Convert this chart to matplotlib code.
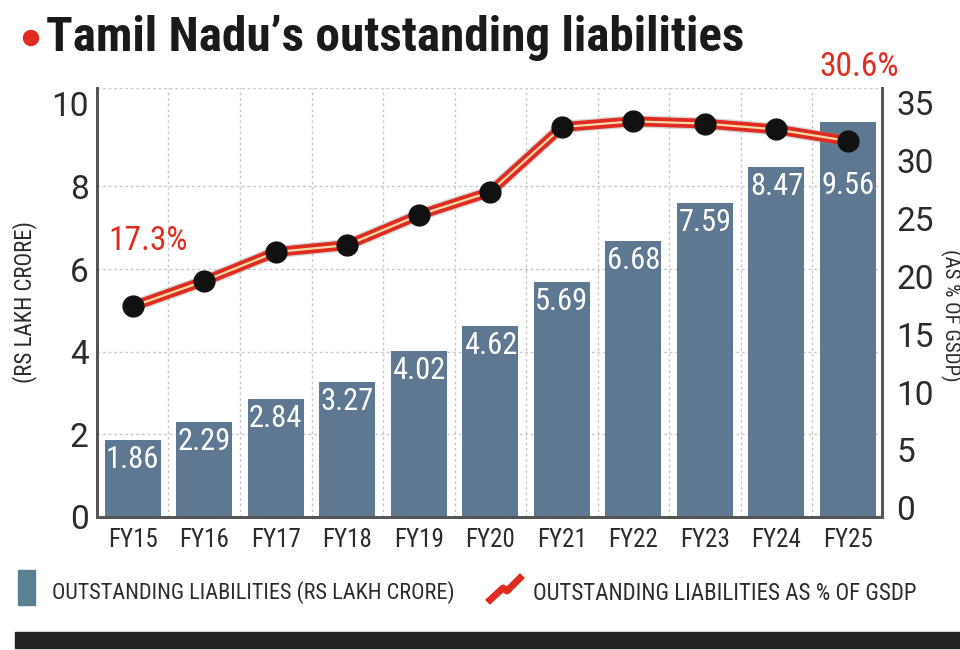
import matplotlib.pyplot as plt
from matplotlib import font_manager
from matplotlib.patches import Rectangle, Ellipse
from matplotlib.lines import Line2D
import matplotlib.patheffects as pe

years = ['FY15', 'FY16', 'FY17', 'FY18', 'FY19', 'FY20', 'FY21', 'FY22', 'FY23', 'FY24', 'FY25']
liabilities = [1.86, 2.29, 2.84, 3.27, 4.02, 4.62, 5.69, 6.68, 7.59, 8.47, 9.56]
pct_gsdp = [17.4, 19.6, 22.1, 22.7, 25.3, 27.3, 32.9, 33.4, 33.2, 32.7, 31.7]
pct_labels = {0: '17.3%', 10: '30.6%'}

names = {f.name for f in font_manager.fontManager.ttflist}
cond = next((n for n in ['Roboto Condensed', 'Archivo Narrow', 'Asap Condensed', 'Roboto']
             if n in names), 'DejaVu Sans')
plt.rcParams['font.family'] = [cond, 'DejaVu Sans']
regular = ['Roboto', 'DejaVu Sans']

bar_color = '#5e7891'
red = '#e02b20'
dark = '#2b2b2b'

fig = plt.figure(figsize=(9.6, 6.5), dpi=100)
ax = fig.add_axes([0.101, 0.205, 0.818, 0.660])
ax2 = ax.twinx()

x = list(range(len(years)))
ax.bar(x, liabilities, width=0.78, color=bar_color, zorder=2)
for i, v in enumerate(liabilities):
    ax.text(i, min(v, 8.5) - 0.12, f'{v:.2f}', color='white', ha='center', va='top',
            fontsize=22, zorder=3)

ax.set_xlim(-0.5, 10.48)
ax.set_ylim(0, 10.39)
ax.set_yticks([0, 2, 4, 6, 8, 10])
ax.set_xticks(x)
ax.set_xticklabels(years)
for gx in range(len(years) - 1):
    ax.axvline(gx + 0.5, color='#c8c8c8', lw=1, ls=(0, (2, 2)), zorder=0)
for gy in [2, 4, 6, 8, 10.39]:
    ax.axhline(gy, color='#c8c8c8', lw=1, ls=(0, (2, 2)), zorder=0)

ax2.plot(x, pct_gsdp, color=red, lw=7, solid_capstyle='round', zorder=4,
         path_effects=[pe.Stroke(linewidth=9, foreground='#8a8a8a', alpha=0.35),
                       pe.Normal()])
ax2.plot(x, pct_gsdp, color='#f4d9a8', lw=1.6, zorder=5)
ax2.plot(x, pct_gsdp, 'o', color='#111111', ms=15, zorder=6)
for i, t in pct_labels.items():
    ax2.text(i + (0.22 if i == 0 else 0.15), pct_gsdp[i] + 4.3 if i == 0 else 36.7, t,
             color=red, ha='center', va='bottom', fontsize=24, zorder=7, clip_on=False)
ax2.set_ylim(-0.78, 36.3)
ax2.set_yticks([0, 5, 10, 15, 20, 25, 30, 35])

for a in (ax, ax2):
    for s in ['left', 'right', 'bottom']:
        a.spines[s].set_color('#555555')
        a.spines[s].set_linewidth(2)
    a.spines['top'].set_visible(False)
ax.tick_params(axis='y', length=0, labelsize=24, colors=dark, pad=6)
ax2.tick_params(axis='y', length=0, labelsize=24, colors=dark, pad=10)
ax.tick_params(axis='x', length=0, labelsize=18, colors=dark, pad=8)
for lab in ax.get_yticklabels() + ax2.get_yticklabels():
    lab.set_family(regular)

ax.set_ylabel('(RS LAKH CRORE)', fontsize=16.5, color=dark, labelpad=10)
fig.text(951 / 960, 0.515, '(AS % OF GSDP)', rotation=270, fontsize=15, color=dark,
         ha='center', va='center')

# title
fig.add_artist(Ellipse((31 / 960, 1 - 38 / 650), 15 / 960, 15 / 650,
                       transform=fig.transFigure, color=red))
fig.text(46 / 960, 1 - 51 / 650, 'Tamil Nadu\u2019s outstanding liabilities',
         fontsize=35.5, fontweight='bold', color='#1a1a1a', ha='left', va='baseline')

# legend
fig.add_artist(Rectangle((18 / 960, 1 - 605 / 650), 17 / 960, 35 / 650,
                         transform=fig.transFigure, color='#5a8092'))
fig.text(52 / 960, 1 - 593 / 650, 'OUTSTANDING LIABILITIES (RS LAKH CRORE)',
         fontsize=16, color=dark, ha='left', va='center')
fig.add_artist(Line2D([490 / 960, 503 / 960, 507 / 960, 520 / 960],
                      [1 - 600 / 650, 1 - 588 / 650, 1 - 591 / 650, 1 - 578 / 650],
                      transform=fig.transFigure, color=red, lw=5))
fig.text(533 / 960, 1 - 593 / 650, 'OUTSTANDING LIABILITIES AS % OF GSDP',
         fontsize=16.5, color=dark, ha='left', va='center')

fig.add_artist(Rectangle((15 / 960, 1 - 648 / 650), 945 / 960, 16 / 650,
                         transform=fig.transFigure, color='#222222'))

fig.savefig('out.png', dpi=100)
